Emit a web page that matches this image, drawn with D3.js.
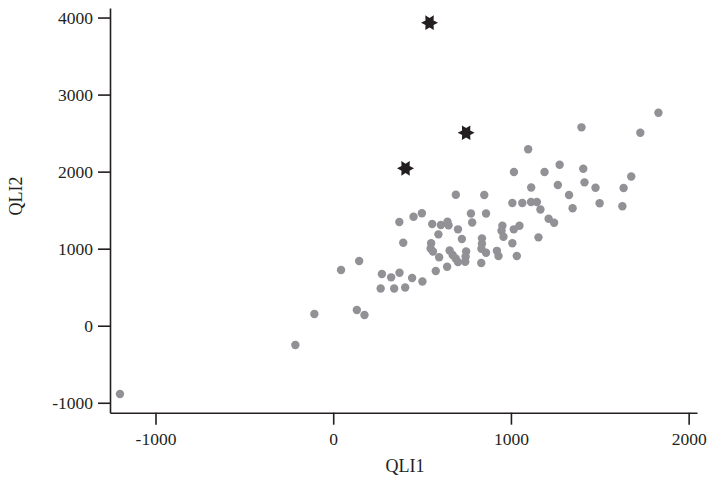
<!DOCTYPE html>
<html>
<head>
<meta charset="utf-8">
<script src="https://cdn.jsdelivr.net/npm/d3@7"></script>
<style>
  body { margin: 0; background: #fff; }
  text { font-family: "Liberation Serif", "DejaVu Serif", serif; }
</style>
</head>
<body>
<svg id="chart"></svg>
<script>
// QLI1 / QLI2 values
var qli1 = [-1200, -213, -106, 44, 133, 146, 176, 267, 274, 326, 343, 373, 405, 444, 502,
            372, 452, 499, 394, 557, 606, 643, 649, 592, 702, 724, 775, 782, 551, 548,
            561, 596, 655, 672, 689, 702, 748, 745, 743, 641, 577, 690, 850, 1114, 1264,
            1327, 1347, 1008, 1064, 1113, 1146, 1166, 1212, 1243, 1155, 860, 952, 947, 958, 1016,
            1048, 1008, 1033, 837, 837, 834, 860, 921, 930, 833, 1830, 1728, 1397, 1097,
            1017, 1189, 1274, 1407, 1414, 1476, 1677, 1634, 1499, 1627];
var qli2 = [-887, -251, 152, 723, 204, 840, 139, 483, 671, 628, 483, 688, 496, 619, 574,
            1346, 1415, 1459, 1077, 1320, 1307, 1350, 1303, 1186, 1251, 1125, 1456, 1340, 1070, 1002,
            963, 888, 976, 918, 872, 827, 963, 896, 831, 766, 710, 1700, 1697, 1794, 1826,
            1697, 1524, 1593, 1593, 1606, 1606, 1508, 1389, 1337, 1147, 1456, 1297, 1233, 1155, 1251,
            1297, 1070, 905, 1134, 1064, 998, 948, 972, 905, 814, 2765, 2505, 2575, 2290,
            1995, 1995, 2090, 2037, 1861, 1790, 1937, 1787, 1589, 1550];

// the three outliers drawn as stars
var starX = [542, 748, 407];
var starY = [3933, 2505, 2043];

var xTicks = [-1000, 0, 1000, 2000];
var yTicks = [-1000, 0, 1000, 2000, 3000, 4000];

var width = 711, height = 479;
var ink = "#231f20";

var svg = d3.select("#chart")
    .attr("width", width)
    .attr("height", height);

var xScale = d3.scaleLinear()
    .domain([-1256, 2047])
    .range([110, 697]);

var yScale = d3.scaleLinear()
    .domain([-1129, 4124])
    .range([412.7, 8]);

var points = qli1.map(function(d, i) { return {x: d, y: qli2[i]}; });
var stars = starX.map(function(d, i) { return {x: d, y: starY[i]}; });

// plain hyphen for negatives, like the original
var plain = function(d) { return String(d); };

// axes
var xAxis = d3.axisBottom(xScale)
    .tickValues(xTicks)
    .tickFormat(plain)
    .tickSize(12)
    .tickSizeOuter(0)
    .tickPadding(8);

var yAxis = d3.axisLeft(yScale)
    .tickValues(yTicks)
    .tickFormat(plain)
    .tickSize(12)
    .tickSizeOuter(0)
    .tickPadding(5);

var gx = svg.append("g")
    .attr("transform", "translate(0," + yScale.range()[0] + ")")
    .call(xAxis);

var gy = svg.append("g")
    .attr("transform", "translate(" + xScale.range()[0] + ",0)")
    .call(yAxis);

[gx, gy].forEach(function(g) {
    g.selectAll("path, line").attr("stroke", ink).attr("stroke-width", 1.6);
    g.selectAll("text")
        .attr("fill", ink)
        .style("font-size", "17.5px")
        .style("font-family", "'Liberation Serif', serif");
});

// dots
svg.append("g")
    .selectAll("circle")
    .data(points)
    .enter()
    .append("circle")
    .attr("cx", function(d) { return xScale(d.x); })
    .attr("cy", function(d) { return yScale(d.y); })
    .attr("r", 4.2)
    .attr("fill", "#919196");

// six pointed star symbol
var hexStar = {
    draw: function(context, size) {
        var R = Math.sqrt(size), r = R * 0.55;
        for (var k = 0; k < 12; k++) {
            var a = k * Math.PI / 6;
            var rr = k % 2 == 0 ? R : r;
            if (k == 0) context.moveTo(rr * Math.cos(a), rr * Math.sin(a));
            else context.lineTo(rr * Math.cos(a), rr * Math.sin(a));
        }
        context.closePath();
    }
};

svg.append("g")
    .selectAll("path")
    .data(stars)
    .enter()
    .append("path")
    .attr("d", d3.symbol().type(hexStar).size(72))
    .attr("transform", function(d) {
        return "translate(" + xScale(d.x) + "," + yScale(d.y) + ")";
    })
    .attr("fill", ink);

// axis titles
svg.append("text")
    .attr("x", 405)
    .attr("y", 472)
    .attr("text-anchor", "middle")
    .attr("fill", ink)
    .style("font-size", "18px")
    .text("QLI1");

svg.append("text")
    .attr("transform", "translate(22,196) rotate(-90)")
    .attr("text-anchor", "middle")
    .attr("fill", ink)
    .style("font-size", "18px")
    .text("QLI2");
</script>
</body>
</html>
